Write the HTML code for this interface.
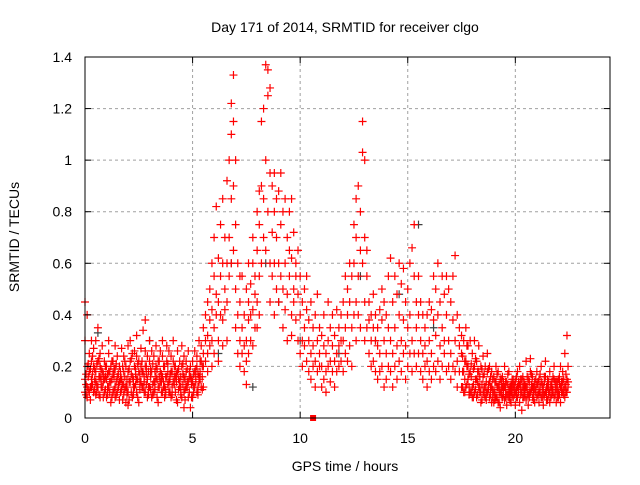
<!DOCTYPE html>
<html><head><meta charset="utf-8"><style>
body{margin:0;background:#fff}
svg text{font-family:"Liberation Sans",sans-serif;font-size:14px;fill:#000}
</style></head><body>
<svg id="c" width="640" height="480" xmlns="http://www.w3.org/2000/svg">
<rect width="640" height="480" fill="#fff"/>
<g id="grid"></g><g id="pts"></g><g id="axes"></g>
<text x="345" y="32" text-anchor="middle">Day 171 of 2014, SRMTID for receiver clgo</text>
<text x="345" y="471" text-anchor="middle">GPS time / hours</text>
<text x="0" y="0" text-anchor="middle" transform="translate(19,237) rotate(-90)">SRMTID / TECUs</text>
</svg>
<script>
const xTicks=[0,5,10,15,20];
const yTicks=[0,0.2,0.4,0.6,0.8,1,1.2,1.4];
const yTickLabels=["0","0.2","0.4","0.6","0.8","1","1.2","1.4"];
const binStart=0, binStep=0.1;
const redBins=[
"45 15 10 30","40 12 20 8","18 25 10","15 22 12 30","20 10 27","14 30 18 9","12 35 22","25 16 8 20","18 12 28","10 22 15",
"8 20 15","25 12 18 30","14 6 20","22 10 17","12 28 19 8","16 24 10","20 7 14","15 27 11","24 9 18 13","12 20 6",
"18 28 10 5","14 22 30","8 16 25","20 12 26","10 32 15 24","18 22 6","27 14 20","12 34 18","38 20 10 26","15 24 8",
"22 12 30","18 8 26","14 24 10","20 28 16","12 6 22","26 18 14","10 24 30 16","20 12 8","28 16 22","14 26 10",
"18 8 24","22 14 30","10 20 16","26 6 18","14 22 12","20 28 8","16 10 24 4","12 22 18","26 8 14","20 4 16",
"14 22 8","18 26 12","10 20 24","16 30 14","22 12 28","20 35 25 12","30 40 22","25 45 32 18","38 50 28","42 60 30 20",
"35 55 70 25","48 82 40","30 62 45 22","40 75 55","60 38 85 28","50 70 42","45 92 60 30","70 100 55","85 122 110 60","133 115 90 65",
"75 50 35 100","60 40 25","45 30 20 55","35 55 25","28 40 18","30 50 22 13","38 25 60 45","52 30 40","60 42 28 70","55 35 48",
"65 45 80 35","75 55 88 40","90 115 60","120 70 85","137 100 65","135 125 80","128 95 60 45","90 72 55","80 60 95 40","70 50 85",
"60 88 45","75 55 95","50 80 35","85 60 42","70 48 30","80 55 65","62 40 85 32","50 72 45","55 38 60","48 30 65",
"40 55 25","45 30 20","35 50 28","42 22 55","30 18 38","25 45 15","35 20 28","22 40 12","30 18 48","25 35 20",
"20 32 12","28 15 40","18 25 10","30 45 20","22 35 14","28 18 40","32 22 12","25 42 18","35 20 28","40 22 30",
"30 18 45","35 55 25","40 22 50","45 28 60","35 55 20","60 40 75","70 45 85 30","55 90 40","80 65 35","115 103 60",
"70 45 100 30","55 35 65","45 25 38","40 30 20","35 22 48","30 18 40","28 15 35","25 42 18","38 20 50","30 12 45",
"25 40 15","35 20 55","30 62 18","45 25 12","35 20 55","28 48 15","40 22 60","52 30 18","58 38 25","45 28 15",
"35 20 50","40 25 60","30 66 18","55 75 25","45 20 35","40 55 25","30 18 45","25 40 15","35 20 28","22 40 12",
"30 18 45","25 42 15","38 20 55","32 50 18","40 22 60","28 45 15","35 55 20","48 25 30","40 18 55","30 50 20",
"45 25 15","38 20 55","63 30 18","40 22 12","35 18 28","25 12 32","30 18 10","22 35 12","28 15 20","18 30 10",
"25 12 8","20 30 10","15 22 8","18 28 12","10 20 6","16 24 10","12 20 8","18 10 25","8 14 20","12 18 6",
"10 16 6","14 20 8","12 6 18","10 15 4","16 8 12","12 20 7","9 14 5","11 18 8","13 6 10","15 8 12",
"10 14 5","12 8 18","6 13 20","10 15 3","14 8 11","12 22 7","9 15 5","18 10 23","8 12 16","11 6 14",
"13 8 18","10 15 6","14 20 8","9 12 5","16 10 22","12 7 15","10 18 6","14 9 12","8 15 20","11 6 14",
"15 10 8","12 20 6","18 10 14","25 12 8","32 15 10"];
const bins2Start=0.05;
const redBins2=[
"13 17 9","16 11 21","12 19 7","17 13 24","11 15 19","13 21 10","9 16 23","19 12 15","14 8 17","16 20 11",
"12 17 9","18 10 14","15 22 8","11 16 19","14 9 21","17 12 13","10 18 15","13 20 7","16 11 22","12 15 9",
"14 19 7","17 10 23","12 15 9","19 13 17","15 8 21","11 17 14","18 12 22","14 16 10","20 13 17","12 18 9",
"16 11 19","13 21 9","18 14 11","15 19 8","12 16 22","17 10 14","14 20 12","11 16 9","18 13 21","15 10 17",
"12 18 9","16 13 20","14 7 17","19 11 15","12 16 9","17 13 21","11 15 7","14 19 12","16 10 18","13 8 15",
"17 12 10","14 19 16","12 17 9","18 15 22","16 20 11"];
const bins3Start=17.55;
const redBins3=[
"18 12 24","15 22 10","20 13 28","12 17 9","16 10 21","13 19 8","11 15 23","14 9 18","10 16 12","13 7 19",
"12 17 9","10 14 7","13 19 11","9 12 16","11 15 8","14 10 7","8 12 17","10 13 6","12 9 15","9 11 14",
"11 14 8","13 9 17","10 12 7","12 15 9","9 13 11","11 16 8","14 10 12","9 12 15","12 8 16","10 13 9",
"12 9 16","10 14 8","13 11 17","9 12 7","11 15 10","14 9 13","10 12 17","13 8 11","9 14 16","12 10 7",
"11 14 9","13 8 12","10 16 11","12 9 14","14 11 8","9 13 16","12 10 14","15 9 11","13 17 10","12 14 20"];
const greyTimes=[0.6,3.0,6.2,6.8,7.8,8.4,9.0,10.0,11.8,12.8,13.5,14.6,15.5,16.2];
const greyVals=[0.33,0.3,0.25,0.6,0.12,0.6,0.45,0.3,0.25,0.55,0.3,0.48,0.75,0.35];
const markerTime=[10.6], markerVal=[0];

const X0=85,X1=610,Y0=418,Y1=57,XMAX=24.4,YMAX=1.4;
const sx=v=>X0+v/XMAX*(X1-X0), sy=v=>Y0-v/YMAX*(Y0-Y1);
const NS="http://www.w3.org/2000/svg";
function mk(tag,attrs,parent){const e=document.createElementNS(NS,tag);for(const k in attrs)e.setAttribute(k,attrs[k]);parent.appendChild(e);return e;}
const grid=document.getElementById('grid'),pts=document.getElementById('pts'),axes=document.getElementById('axes');
xTicks.forEach((t,i)=>{
 const x=sx(t);
 if(t>0){const g=mk('line',{x1:x,x2:x,y1:Y1,y2:Y0,stroke:'#a0a0a0','stroke-dasharray':'3,3'},grid);
 
 }
 mk('line',{x1:x,x2:x,y1:Y0,y2:Y0-6,stroke:'#000'},axes);
 mk('line',{x1:x,x2:x,y1:Y1,y2:Y1+6,stroke:'#000'},axes);
 const l=mk('text',{x:x,y:443,'text-anchor':'middle'},axes);l.textContent=t;
 
 
});
yTicks.forEach((t,i)=>{
 const y=sy(t);
 if(t>0&&t<YMAX){const g=mk('line',{x1:X0,x2:X1,y1:y,y2:y,stroke:'#a0a0a0','stroke-dasharray':'3,3'},grid);
 
 }
 mk('line',{x1:X0,x2:X0+6,y1:y,y2:y,stroke:'#000'},axes);
 mk('line',{x1:X1,x2:X1-6,y1:y,y2:y,stroke:'#000'},axes);
 const l=mk('text',{x:72,y:y+5,'text-anchor':'end'},axes);l.textContent=yTickLabels[i];
 
 
});
const frame=mk('rect',{x:X0,y:Y1,width:X1-X0,height:Y0-Y1,fill:'none',stroke:'#000'},axes);


function plus(t,v,col,name){
 const x=sx(t),y=sy(v);
 const p=mk('path',{d:`M${x-4} ${y}H${x+4}M${x} ${y-4}V${y+4}`,stroke:col,'stroke-width':1.2,fill:'none'},pts);
 
 
}
greyTimes.forEach((t,i)=>plus(t,greyVals[i],'#404040','grey-point'));
function drawBins(arr,start){
 arr.forEach((s,i)=>{
  const t=start+i*binStep;
  s.split(' ').forEach(v=>plus(t,(+v)/100,'#ff0000','red-point'));
 });
}
drawBins(redBins,binStart);
drawBins(redBins2,bins2Start);
drawBins(redBins3,bins3Start);
markerTime.forEach((t,i)=>{
 const r=mk('rect',{x:sx(t)-3,y:sy(markerVal[i])-3,width:6,height:6,fill:'#ff0000'},pts);
 
 
});
</script>
</body></html>
